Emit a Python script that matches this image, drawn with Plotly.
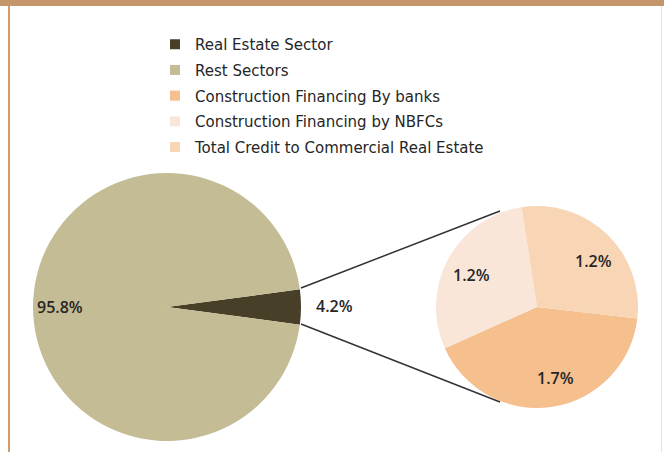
import plotly.graph_objects as go

# ---- data ----
main_labels = ["Real Estate Sector", "Rest Sectors"]
main_values = [4.2, 95.8]
sub_labels = ["Construction Financing By banks", "Construction Financing by NBFCs",
              "Total Credit to Commercial Real Estate"]
sub_values = [1.7, 1.2, 1.2]

main_colors = ["#473f27", "#c4bc95"]
sub_colors = ["#f5bf8e", "#f9e6d9", "#f8d5b5"]

W, H = 664, 452
FONT = "DejaVu Sans"
TXT = "#262626"

fig = go.Figure()

# main pie (Real Estate slice centred on 3 o'clock)
fig.add_trace(go.Pie(
    labels=main_labels, values=main_values, sort=False, direction="clockwise",
    rotation=90 - main_values[0] / sum(main_values) * 360 / 2,
    marker=dict(colors=main_colors, line=dict(width=0)),
    textinfo="none", hoverinfo="label+value", showlegend=False,
    domain=dict(x=[33 / W, 301 / W], y=[(145 - 134) / H, (145 + 134) / H]),
))

# breakdown pie
fig.add_trace(go.Pie(
    labels=sub_labels, values=sub_values, sort=False, direction="clockwise",
    rotation=96.6,
    marker=dict(colors=sub_colors, line=dict(width=0)),
    textinfo="none", hoverinfo="label+value", showlegend=False,
    domain=dict(x=[436 / W, 638 / W], y=[(145 - 101) / H, (145 + 101) / H]),
))

# legend entries
for i, (lab, col) in enumerate(zip(main_labels + sub_labels, main_colors + sub_colors)):
    fig.add_trace(go.Scatter(
        x=[None], y=[None], mode="markers", name=lab, legendgroup=f"g{i}",
        marker=dict(symbol="square", size=10, color=col),
    ))

lab_font = dict(family="Open Sans", size=16, color=TXT, weight=600)
# percentage labels (pixel positions from top-left)
label_pos_main = [(335, 306), (60, 307)]
for v, (px, py) in zip(main_values, label_pos_main):
    fig.add_annotation(x=px / W, y=(H - py) / H, xref="paper", yref="paper",
                       xanchor="center", yanchor="middle",
                       text=f"{v:.1f}%", showarrow=False, font=lab_font)
label_pos_sub = [(555, 378), (471, 275), (593, 261)]
for v, (px, py) in zip(sub_values, label_pos_sub):
    fig.add_annotation(x=px / W, y=(H - py) / H, xref="paper", yref="paper",
                       xanchor="center", yanchor="middle",
                       text=f"{v:.1f}%", showarrow=False, font=lab_font)

shapes = [
    # connector lines
    dict(type="line", xref="paper", yref="paper", x0=301 / W, y0=(H - 288) / H,
         x1=500 / W, y1=(H - 211) / H, line=dict(color="#333333", width=1.5)),
    dict(type="line", xref="paper", yref="paper", x0=301 / W, y0=(H - 324) / H,
         x1=500 / W, y1=(H - 402) / H, line=dict(color="#333333", width=1.5)),
    # frame
    dict(type="rect", xref="paper", yref="paper", x0=0, x1=1, y0=(H - 6) / H, y1=1,
         fillcolor="#c4966a", line=dict(width=0)),
    dict(type="rect", xref="paper", yref="paper", x0=8 / W, x1=10 / W, y0=0, y1=(H - 6) / H,
         fillcolor="#d39b6c", line=dict(width=0)),
    dict(type="rect", xref="paper", yref="paper", x0=661 / W, x1=662 / W, y0=0, y1=(H - 6) / H,
         fillcolor="#ece0da", line=dict(width=0)),
]

fig.update_layout(
    width=W, height=H, margin=dict(l=0, r=0, t=0, b=0),
    paper_bgcolor="white", plot_bgcolor="white",
    xaxis=dict(visible=False), yaxis=dict(visible=False),
    showlegend=True,
    legend=dict(x=155 / W, xanchor="left", y=1 - 28 / H, yanchor="top",
                traceorder="grouped", tracegroupgap=3.2,
                font=dict(family=FONT, size=15, color=TXT),
                bgcolor="rgba(0,0,0,0)", itemclick=False),
    shapes=shapes,
)

fig.write_html("out.html", config={"displayModeBar": False},
               post_script="document.body.style.margin='0';document.body.style.padding='0';")
